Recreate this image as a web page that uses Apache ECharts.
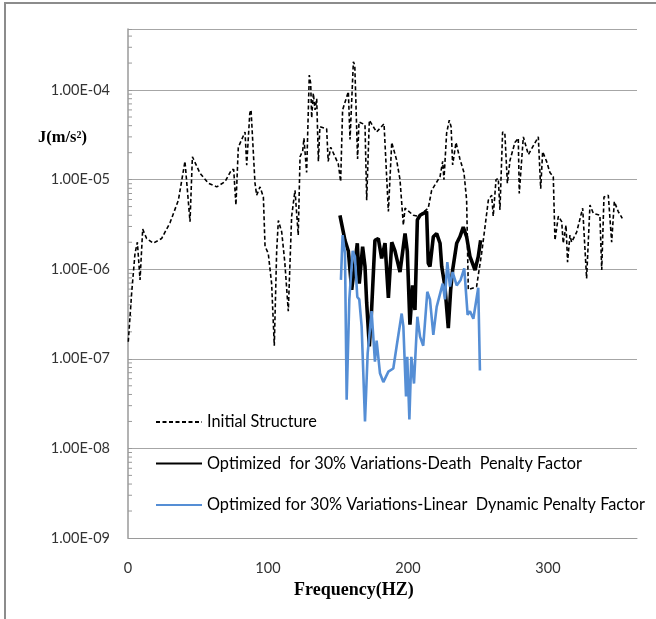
<!DOCTYPE html>
<html>
<head>
<meta charset="utf-8">
<script src="https://cdn.jsdelivr.net/npm/echarts@6/dist/echarts.min.js"></script>
<style>html,body{margin:0;padding:0;background:#fff}#c{width:656px;height:619px}</style>
</head>
<body>
<div id="c"></div>
<script>
// ---- data (frequency in Hz, J in m/s^2) ----
const seriesNames = [
  'Initial Structure',
  'Optimized  for 30% Variations-Death  Penalty Factor',
  'Optimized for 30% Variations-Linear  Dynamic Penalty Factor'
];
const initialFreq = [0.2,2.6,5,6.7,8.6,10.5,13.3,18,24,30,36,40.7,42,44.3,46,51.4,57.4,63.4,69.3,74,75.5,77.1,78.8,83.6,84.8,87,87.9,90.7,91.9,94.3,96.7,97.9,100.2,102.6,104.5,106.2,107.4,109.8,112,114.5,116.9,119.3,121.6,122.9,124.8,125.7,127.6,129.5,130.5,131.2,132.4,133.6,134.8,136,137.1,141.9,143,144.8,147.9,150.2,151.9,153.3,157.4,158.6,161,162,164,165,169.3,170.5,172.4,177.6,182.9,186,188.4,191.9,194.3,196.7,197.9,203.8,207.4,214.5,216.9,222.9,224.8,225.7,227.6,229.5,230.8,231.9,234.3,237.1,240,241.9,243.1,244.3,249,252.6,255,257.4,259.8,260.9,262.9,264.5,265.7,267.6,269.2,271,272.9,276.4,278.8,279.5,282.4,286,293.1,294.8,296.2,299,301.4,303.8,305,307.4,309.8,310.9,312.9,314,315.7,316.9,320.5,324.8,327.6,330,332.4,337.1,338.4,340,343.1,345.5,347.4,350.2,353.1];
const initialJ = [1.55e-7,5.4e-7,1.5e-6,2.0e-6,7.6e-7,2.8e-6,2.2e-6,1.95e-6,2.2e-6,3.3e-6,5.9e-6,1.6e-5,1.65e-5,3.4e-6,1.8e-5,1.18e-5,9.1e-6,8.3e-6,9.5e-6,1.29e-5,1.3e-5,5.2e-6,2.3e-5,3.4e-5,1.45e-5,5.5e-5,6.0e-5,9.2e-6,6.7e-6,8.3e-6,6.4e-6,1.8e-6,1.5e-6,6.9e-7,1.4e-7,1.6e-6,3.5e-6,2.6e-6,1.2e-6,3.4e-7,3.9e-6,7.6e-6,2.4e-6,1.8e-5,2.1e-5,2.9e-5,1.2e-5,1.47e-4,1.19e-4,4.9e-5,9.2e-5,6.0e-5,8.0e-5,1.6e-5,3.9e-5,3.7e-5,1.6e-5,2.3e-5,1.8e-5,1.5e-5,9.5e-6,6.0e-5,9.6e-5,2.8e-5,2.07e-4,1.9e-4,1.7e-5,4.4e-5,4.1e-5,5.9e-6,4.6e-5,3.4e-5,4.2e-5,4.4e-6,2.6e-5,1.65e-5,1.0e-5,3.1e-6,4.8e-6,4.0e-6,3.9e-6,4.8e-6,7.6e-6,1.08e-5,1.6e-5,1.0e-5,3.3e-5,4.6e-5,3.9e-5,1.46e-5,2.6e-5,1.7e-5,1.2e-5,5.9e-6,5.9e-7,6.0e-7,6.4e-7,1.5e-6,2.95e-6,5.9e-6,6.7e-6,3.9e-6,1.0e-5,1.03e-5,4.6e-6,3.4e-5,3.3e-5,9.1e-6,1.65e-5,2.6e-5,2.9e-5,7.0e-6,3.0e-5,1.9e-5,3.0e-5,7.9e-6,2.05e-5,1.6e-5,1.2e-5,1.08e-5,2.1e-6,3.9e-6,3.4e-6,1.95e-6,3.1e-6,1.2e-6,2.4e-6,2.0e-6,2.6e-6,4.8e-6,7.9e-7,5.2e-6,4.2e-6,4.0e-6,9.8e-7,6.4e-6,6.7e-6,2.0e-6,5.7e-6,4.4e-6,3.7e-6];
const deathFreq = [151.4,155,157.4,159.8,162.1,163.8,165.2,167.6,169.3,170.5,172.4,174,176.4,178.8,181.2,183.6,186,188.4,190.7,194.3,197.9,199.5,201.4,203.3,205,206.7,208.6,213.3,214.5,215.7,218.1,220.5,222.9,224.1,226.4,228.8,230.5,231.9,234.8,237.1,239.5,241.9,244.3,247.9,250.2,251.9];
const deathJ = [4.0e-6,2.1e-6,1.6e-6,5.9e-7,1.17e-6,1.95e-6,6.9e-7,1.78e-6,1.07e-6,4.2e-7,1.38e-7,3.5e-7,2.1e-6,2.2e-6,1.32e-6,1.95e-6,4.8e-7,2.0e-6,1.6e-6,9.3e-7,2.5e-6,1.6e-6,2.4e-7,6.6e-7,3.5e-7,3.55e-6,4.0e-6,4.4e-6,1.17e-6,1.07e-6,2.3e-6,2.5e-6,1.95e-6,1.07e-6,6.4e-7,2.2e-7,5.9e-7,9.8e-7,1.95e-6,2.3e-6,2.95e-6,2.3e-6,1.38e-6,9.8e-7,1.38e-6,2.1e-6];
const linearFreq = [152.1,153.3,155,156.2,158.1,160.5,162.1,163.8,165.2,166.9,169.3,171.2,174,176.4,177.6,180,182.4,186,189.5,191.9,195.5,196.7,198.6,199.5,201,202.4,204.3,206.7,208.6,210.9,213.8,215.7,218.1,220.5,224.8,226.4,228.1,230,231.9,234.8,237.6,240.2,242.6,244.3,246.7,250.2,251.4];
const linearJ = [7.6e-7,2.4e-6,1.5e-6,3.5e-8,4.6e-7,1.6e-6,1.38e-6,4.9e-7,4.6e-7,2.3e-7,2.0e-8,1.15e-7,3.4e-7,9.3e-8,1.6e-7,6.9e-8,5.5e-8,7.2e-8,7.8e-8,1.38e-7,3.2e-7,2.3e-7,3.8e-8,1.05e-7,2.1e-8,1.05e-7,5.3e-8,2.95e-7,1.77e-7,1.4e-7,5.6e-7,4.6e-7,1.85e-7,3.8e-7,6.9e-7,4.6e-7,1.2e-6,6.4e-7,9.3e-7,6.6e-7,7.6e-7,1.02e-6,3.1e-7,3.4e-7,2.8e-7,6.2e-7,7.4e-8];
const xTicks = [0, 100, 200, 300];
const yMin = 1e-9, yMax = 4.8e-4;
const minorTickValues = [];
for (let e = -9; e <= -4; e++) for (let m = 2; m <= 9; m++) { const v = m * Math.pow(10, e); if (v < yMax) minorTickValues.push(v); }

const pairs = (xs, ys) => xs.map((x, i) => [x, ys[i]]);

const chart = echarts.init(document.getElementById('c'), null, {renderer: 'canvas'});
const labelFont = 'Lato';
chart.setOption({
  animation: false,
  backgroundColor: '#fff',
  grid: {left: 128, right: 19, top: 29, bottom: 81, containLabel: false},
  xAxis: {
    type: 'value', min: 0, max: 363.6, interval: 100,
    axisLine: {lineStyle: {color: '#9a9a9a', width: 1}},
    axisTick: {show: false},
    splitLine: {show: false},
    axisLabel: {
      color: '#333', fontFamily: labelFont, fontSize: 14.5, margin: 23,
      formatter: v => (xTicks.indexOf(v) >= 0 ? String(v) : '')
    }
  },
  yAxis: {
    type: 'log', logBase: 10, min: yMin, max: yMax,
    axisLine: {show: true, lineStyle: {color: '#9a9a9a', width: 1.5}},
    axisTick: {show: true, inside: true, length: 4, lineStyle: {color: '#9a9a9a'}},
    splitLine: {show: true, lineStyle: {color: '#a6a6a6', width: 1}},
    axisLabel: {
      color: '#333', fontFamily: labelFont, fontSize: 14.5, margin: 18,
      formatter: v => {
        const lg = Math.log10(v), e = Math.round(lg);
        if (Math.abs(lg - e) > 1e-6) return '';
        const n = -e;
        return '1.00E-' + (n < 10 ? '0' + n : n);
      }
    }
  },
  legend: {
    orient: 'vertical', left: 150, top: 409,
    itemWidth: 46, itemHeight: 16, itemGap: 25.5, itemTextGap: 6,
    itemStyle: {opacity: 0},
    data: seriesNames,
    textStyle: {color: '#000', fontFamily: labelFont, fontSize: 16.3}
  },
  series: [
    {
      name: seriesNames[0], type: 'line', symbol: 'none', z: 3, color: '#000',
      data: pairs(initialFreq, initialJ),
      lineStyle: {color: '#000', width: 1.6, type: [4, 2.5]}
    },
    {
      name: seriesNames[1], type: 'line', symbol: 'none', z: 4, color: '#000',
      data: pairs(deathFreq, deathJ),
      lineStyle: {color: '#000', width: 3.6}
    },
    {
      name: seriesNames[2], type: 'line', symbol: 'none', z: 5, color: '#558ed5',
      data: pairs(linearFreq, linearJ),
      lineStyle: {color: '#558ed5', width: 2.6}
    },
    {
      name: 'minorTicks', type: 'custom', silent: true, z: 2,
      data: minorTickValues.map(v => [0, v]),
      renderItem: (params, api) => {
        const p = api.coord([0, api.value(1)]);
        return {type: 'line', shape: {x1: p[0], y1: p[1], x2: p[0] + 4, y2: p[1]},
                style: {stroke: '#9a9a9a', lineWidth: 1}};
      }
    }
  ],
  graphic: [
    {type: 'rect', shape: {x: 5, y: 3, width: 700, height: 700},
     style: {fill: 'none', stroke: '#8c8c8c', lineWidth: 2}, silent: true},
    {type: 'text', left: 38, top: 129,
     style: {text: 'J(m/s²)', font: 'bold 16.5px "Liberation Serif"', fill: '#000'}},
    {type: 'text', left: 294, top: 581,
     style: {text: 'Frequency(HZ)', font: 'bold 18px "Liberation Serif"', fill: '#000'}}
  ]
});
</script>
</body>
</html>
